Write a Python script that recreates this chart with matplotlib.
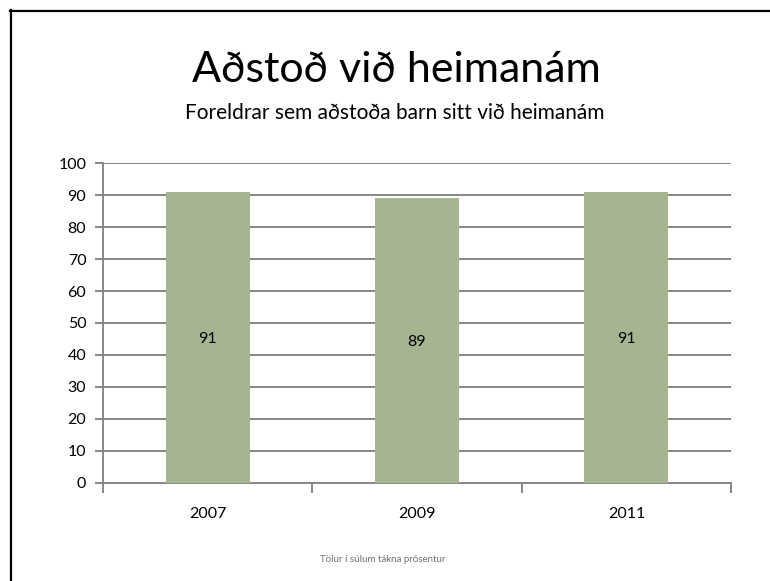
import matplotlib
matplotlib.use("Agg")
import matplotlib.pyplot as plt
from matplotlib.lines import Line2D

# data
years = ["2007", "2009", "2011"]
values = [91, 89, 91]
yticks = list(range(0, 101, 10))

title = "Aðstoð við heimanám"
subtitle = "Foreldrar sem aðstoða barn sitt við heimanám"
footnote = "Tölur í súlum tákna prósentur"

plt.rcParams['font.family'] = ['Lato', 'DejaVu Sans']

bar_color = '#A5B592'
grid_color = '#878787'

fig = plt.figure(figsize=(7.7, 5.81), dpi=100)
ax = fig.add_axes([103 / 770, 1 - 483 / 581, (731 - 103) / 770, (483 - 163) / 581])

x = range(len(years))
bars = ax.bar(x, values, width=0.4, color=bar_color, zorder=3)
for b, v in zip(bars, values):
    ax.text(b.get_x() + b.get_width() / 2, v / 2, str(v), ha='center', va='center_baseline',
            fontsize=11.5, color='black', zorder=4)

ax.set_xlim(-0.5, len(years) - 0.5)
ax.set_ylim(0, 100)
ax.set_yticks(yticks)
ax.set_yticklabels([str(t) for t in yticks], fontsize=11.5)
ax.yaxis.grid(True, color=grid_color, linewidth=1.4, zorder=1)
ax.tick_params(axis='y', length=6, width=1.4, color=grid_color, pad=6)

ax.set_xticks(list(x))
ax.set_xticklabels(years, fontsize=11.5)
ax.tick_params(axis='x', length=0, pad=17)
# category boundary ticks
ax.set_xticks([i - 0.5 for i in range(len(years) + 1)], minor=True)
ax.tick_params(axis='x', which='minor', length=7, width=1.4, color=grid_color)

for s in ['top', 'right']:
    ax.spines[s].set_visible(False)
for s in ['left', 'bottom']:
    ax.spines[s].set_color(grid_color)
    ax.spines[s].set_linewidth(1.4)

fig.text(396 / 770, 1 - 70 / 581, title, ha='center', va='center', fontsize=31)
fig.text(395 / 770, 1 - 113 / 581, subtitle, ha='center', va='center', fontsize=15)
fig.text(383 / 770, 1 - 560 / 581, footnote, ha='center', va='center', fontsize=7,
         color='#707070')

# frame lines at top and left
fig.add_artist(Line2D([10 / 770, 1], [1 - 10.5 / 581] * 2, color='black', linewidth=1.6))
fig.add_artist(Line2D([10.5 / 770] * 2, [0, 1 - 10 / 581], color='black', linewidth=1.6))

fig.savefig("out.png", dpi=100)
